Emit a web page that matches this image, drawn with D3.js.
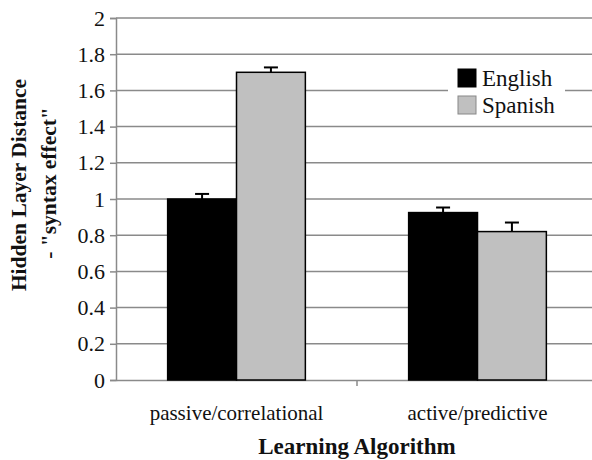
<!DOCTYPE html>
<html>
<head>
    <script src="https://d3js.org/d3.v7.min.js"></script>
    <style>
        body { margin: 0; background: #fff; }
        svg text { font-family: "Liberation Serif", Tinos, "Times New Roman", Times, "DejaVu Serif", serif !important; fill: #111; }
    </style>
</head>
<body>
    <script>
        // data
        const categories = ['passive/correlational', 'active/predictive'];
        const series = ['English', 'Spanish'];
        const englishValues = [1.00, 0.925];
        const spanishValues = [1.70, 0.82];
        const englishErrors = [0.028, 0.028];
        const spanishErrors = [0.027, 0.05];
        const yTicks = [0, 0.2, 0.4, 0.6, 0.8, 1, 1.2, 1.4, 1.6, 1.8, 2];

        const width = 592, height = 460;
        const plotLeft = 116, plotRight = 598, plotTop = 18, plotBottom = 380;

        const svg = d3.select("body").append("svg")
            .attr("width", width)
            .attr("height", height);

        const x0 = d3.scaleBand()
            .domain(categories)
            .range([plotLeft, plotRight])
            .paddingInner(0)
            .paddingOuter(0);

        const x1 = d3.scaleBand()
            .domain(series)
            .range([0, x0.bandwidth()])
            .paddingInner(0)
            .paddingOuter(0.75);

        const y = d3.scaleLinear()
            .domain([0, 2])
            .range([plotBottom, plotTop]);

        const color = d3.scaleOrdinal()
            .domain(series)
            .range(["#000000", "#c0c0c0"]);

        // gridlines
        svg.selectAll("line.grid")
            .data(yTicks.slice(1))
            .enter().append("line")
            .attr("class", "grid")
            .attr("x1", plotLeft)
            .attr("x2", width)
            .attr("y1", d => y(d))
            .attr("y2", d => y(d))
            .attr("stroke", "#8a8a8a")
            .attr("stroke-width", 1.5);

        // y axis
        const yAxis = svg.append("g")
            .attr("transform", `translate(${plotLeft},0)`)
            .call(d3.axisLeft(y).tickValues(yTicks).tickSize(6).tickPadding(5).tickFormat(d => d3.format("")(d)));
        yAxis.select(".domain").attr("stroke", "#8a8a8a").attr("stroke-width", 1.5);
        yAxis.selectAll(".tick line").attr("stroke", "#8a8a8a").attr("stroke-width", 1.5);
        yAxis.selectAll(".tick text")
            .attr("font-size", 22)
            .attr("fill", "#222");

        // x axis
        const xAxis = svg.append("g")
            .attr("transform", `translate(0,${plotBottom})`)
            .call(d3.axisBottom(x0).tickSize(0).tickPadding(25));
        xAxis.select(".domain").attr("stroke", "#8a8a8a").attr("stroke-width", 1.5);
        xAxis.selectAll(".tick text")
            .attr("font-size", 21)
            .attr("fill", "#222");

        // category boundary ticks
        svg.selectAll("line.cattick")
            .data(categories.slice(1))
            .enter().append("line")
            .attr("class", "cattick")
            .attr("x1", d => x0(d))
            .attr("x2", d => x0(d))
            .attr("y1", plotBottom)
            .attr("y2", plotBottom + 6)
            .attr("stroke", "#8a8a8a")
            .attr("stroke-width", 1.5);

        const rows = categories.map((c, i) => ({
            category: c,
            values: [
                { key: 'English', value: englishValues[i], err: englishErrors[i] },
                { key: 'Spanish', value: spanishValues[i], err: spanishErrors[i] }
            ]
        }));

        const groups = svg.selectAll("g.group")
            .data(rows)
            .enter().append("g")
            .attr("class", "group")
            .attr("transform", d => `translate(${x0(d.category)},0)`);

        // error bars (drawn first, bars sit on top)
        const err = groups.selectAll("g.err")
            .data(d => d.values)
            .enter().append("g")
            .attr("class", "err");
        err.append("line")
            .attr("x1", d => x1(d.key) + x1.bandwidth() / 2)
            .attr("x2", d => x1(d.key) + x1.bandwidth() / 2)
            .attr("y1", d => y(d.value))
            .attr("y2", d => y(d.value + d.err))
            .attr("stroke", "#000")
            .attr("stroke-width", 2);
        err.append("line")
            .attr("x1", d => x1(d.key) + x1.bandwidth() / 2 - 7)
            .attr("x2", d => x1(d.key) + x1.bandwidth() / 2 + 7)
            .attr("y1", d => y(d.value + d.err))
            .attr("y2", d => y(d.value + d.err))
            .attr("stroke", "#000")
            .attr("stroke-width", 2);

        groups.selectAll("rect")
            .data(d => d.values)
            .enter().append("rect")
            .attr("x", d => x1(d.key))
            .attr("y", d => y(d.value))
            .attr("width", x1.bandwidth())
            .attr("height", d => y(0) - y(d.value))
            .attr("fill", d => color(d.key))
            .attr("stroke", "#000")
            .attr("stroke-width", 1.5);

        // legend
        const legend = svg.append("g").attr("transform", "translate(448,62)");
        legend.append("rect")
            .attr("x", 0).attr("y", 0)
            .attr("width", 117).attr("height", 56)
            .attr("fill", "#fff");
        const items = legend.selectAll("g.item")
            .data(series)
            .enter().append("g")
            .attr("class", "item")
            .attr("transform", (d, i) => `translate(10,${7 + i * 27})`);
        items.append("rect")
            .attr("width", 18).attr("height", 18)
            .attr("fill", d => color(d))
            .attr("stroke", d => d === 'Spanish' ? "#888" : "#000")
            .attr("stroke-width", 1);
        items.append("text")
            .attr("x", 24)
            .attr("y", 17)
            .attr("font-size", 23)
            .text(d => d);

        // axis titles
        svg.append("text")
            .attr("transform", "translate(26,185) rotate(-90)")
            .attr("text-anchor", "middle")
            .attr("font-size", 21.5)
            .attr("font-weight", "bold")
            .text("Hidden Layer Distance");
        svg.append("text")
            .attr("transform", "translate(56,183) rotate(-90)")
            .attr("text-anchor", "middle")
            .attr("font-size", 21.5)
            .attr("font-weight", "bold")
            .text('- "syntax effect"');

        svg.append("text")
            .attr("x", 357)
            .attr("y", 454)
            .attr("text-anchor", "middle")
            .attr("font-size", 23)
            .attr("font-weight", "bold")
            .text("Learning Algorithm");
    </script>
</body>
</html>
